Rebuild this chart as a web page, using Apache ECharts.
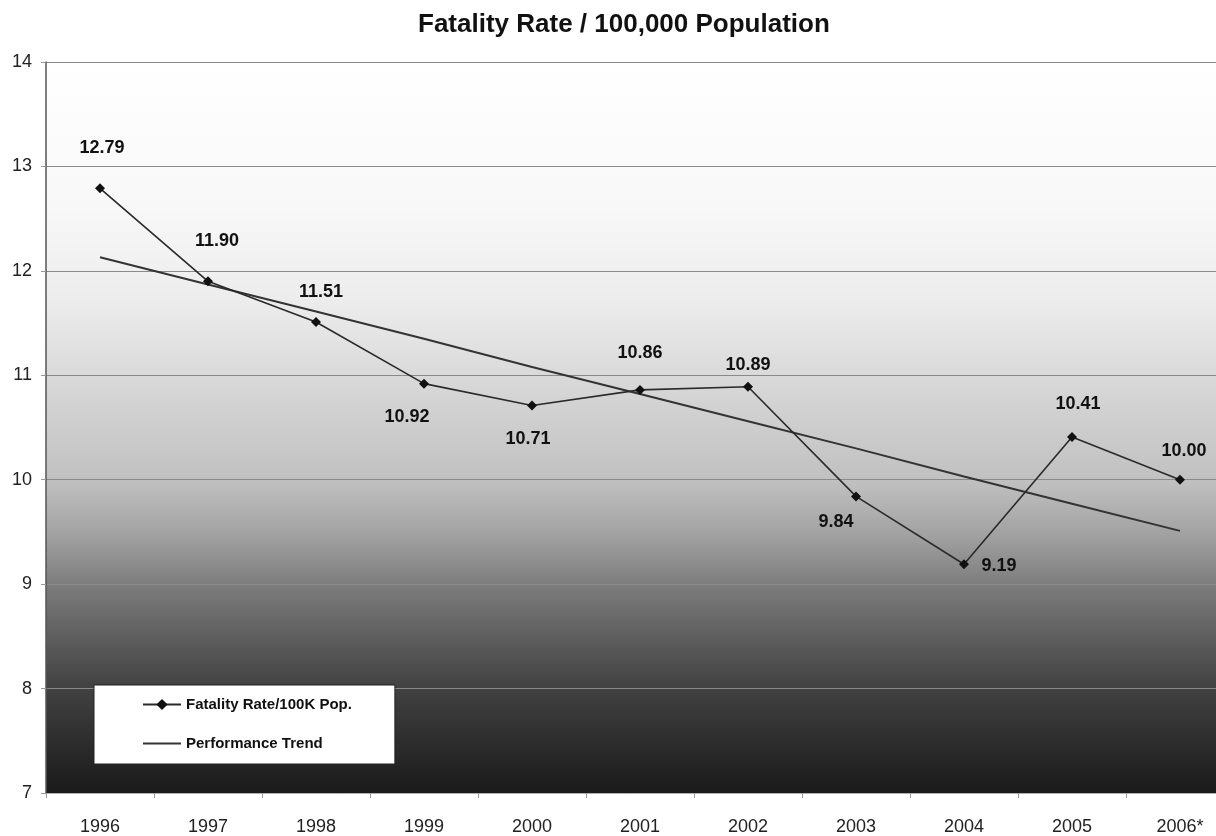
<!doctype html>
<html lang="en">
<head>
    <meta charset="UTF-8">
    <title>Fatality Rate / 100,000 Population</title>
    <script src="https://cdn.jsdelivr.net/npm/echarts@6/dist/echarts.min.js"></script>
    <style>
        html, body {
            margin: 0;
            padding: 0;
            background-color: #ffffff;
        }

        #mainChart {
            width: 1216px;
            height: 836px;
        }
    </style>
</head>
<body>
<div id="mainChart"></div>
<script>
    // data
    const years = ['1996', '1997', '1998', '1999', '2000', '2001', '2002', '2003', '2004', '2005', '2006*'];
    const fatalityRate = [12.79, 11.90, 11.51, 10.92, 10.71, 10.86, 10.89, 9.84, 9.19, 10.41, 10.00];
    const performanceTrend = [12.13, 11.87, 11.61, 11.35, 11.08, 10.82, 10.56, 10.30, 10.03, 9.77, 9.51];
    const yMin = 7, yMax = 14, yStep = 1;

    // where each value label sits relative to its point (px)
    const labelOffsets = [[2, -40], [9, -40], [5, -30], [-17, 33], [-4, 33], [0, -37], [0, -22], [-20, 26], [35, 2], [6, -33], [4, -29]];

    const fontFamily = '"Liberation Sans", Arial, sans-serif';

    function chartInit() {
        let myChart = echarts.init(document.getElementById('mainChart'), null, {renderer: 'canvas'});

        let rateData = fatalityRate.map(function (v, i) {
            return {
                value: v,
                label: {offset: labelOffsets[i]}
            };
        });

        let option = {
            backgroundColor: '#ffffff',
            animation: false,
            textStyle: {fontFamily: fontFamily},
            title: {
                text: 'Fatality Rate / 100,000 Population',
                left: 418,
                top: 12,
                padding: 0,
                textStyle: {
                    fontFamily: fontFamily,
                    fontSize: 26,
                    fontWeight: 'bold',
                    color: '#111'
                }
            },
            legend: {
                orient: 'vertical',
                left: 94,
                top: 685,
                padding: [12, 43, 13, 48],
                itemGap: 24,
                itemWidth: 38,
                itemHeight: 14,
                backgroundColor: '#ffffff',
                borderColor: '#222',
                borderWidth: 1,
                borderRadius: 0,
                textStyle: {
                    fontFamily: fontFamily,
                    fontSize: 15,
                    fontWeight: 'bold',
                    color: '#111'
                },
                data: [
                    {name: 'Fatality Rate/100K Pop.'},
                    {
                        name: 'Performance Trend',
                        itemStyle: {color: 'rgba(0,0,0,0)', borderColor: 'rgba(0,0,0,0)', borderWidth: 0}
                    }
                ]
            },
            grid: {
                left: 46,
                width: 1188,
                top: 62,
                bottom: 43,
                outerBoundsMode: 'none',
                containLabel: false,
                show: true,
                borderWidth: 0,
                backgroundColor: new echarts.graphic.LinearGradient(0, 0, 0, 1, [
                    {offset: 0, color: '#ffffff'},
                    {offset: 0.2, color: '#f8f8f8'},
                    {offset: 0.33, color: '#ececec'},
                    {offset: 0.46, color: '#d4d4d4'},
                    {offset: 0.575, color: '#c0c0c0'},
                    {offset: 0.65, color: '#a0a0a0'},
                    {offset: 0.72, color: '#7a7a7a'},
                    {offset: 0.86, color: '#404040'},
                    {offset: 1, color: '#1a1a1a'}
                ])
            },
            xAxis: {
                type: 'category',
                data: years,
                boundaryGap: true,
                axisLine: {lineStyle: {color: '#b0b0b0', width: 1}},
                axisTick: {show: true, length: 5, lineStyle: {color: '#999'}},
                axisLabel: {
                    margin: 25,
                    fontFamily: fontFamily,
                    fontSize: 18,
                    color: '#222'
                },
                splitLine: {show: false}
            },
            yAxis: {
                type: 'value',
                min: yMin,
                max: yMax,
                interval: yStep,
                axisLine: {show: true, lineStyle: {color: '#555', width: 1.5}},
                axisTick: {show: true, length: 5, lineStyle: {color: '#999'}},
                axisLabel: {
                    margin: 14,
                    fontFamily: fontFamily,
                    fontSize: 18,
                    color: '#222'
                },
                splitLine: {show: true, lineStyle: {color: '#8a8a8a', width: 1.2}}
            },
            series: [{
                name: 'Fatality Rate/100K Pop.',
                type: 'line',
                data: rateData,
                symbol: 'diamond',
                symbolSize: 10,
                z: 4,
                itemStyle: {color: '#111'},
                lineStyle: {color: '#2a2a2a', width: 1.6},
                label: {
                    show: true,
                    position: 'inside',
                    fontFamily: fontFamily,
                    fontSize: 18,
                    fontWeight: 'bold',
                    color: '#111',
                    formatter: function (p) {
                        return p.value.toFixed(2);
                    }
                }
            }, {
                name: 'Performance Trend',
                type: 'line',
                data: performanceTrend,
                symbol: 'none',
                z: 3,
                itemStyle: {color: '#222'},
                lineStyle: {color: '#333', width: 2}
            }]
        };

        option && myChart.setOption(option);
    }

    chartInit();
</script>
</body>
</html>
